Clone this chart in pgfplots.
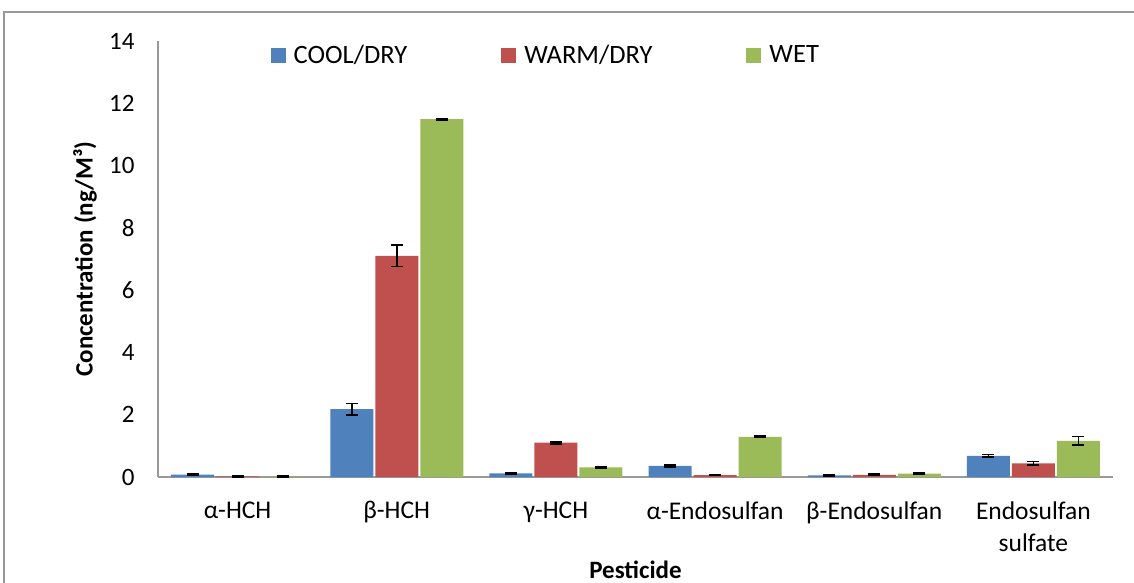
\documentclass[border=0pt]{standalone}
\usepackage{pgfplots}
\pgfplotsset{compat=1.18}
\usepackage{fontspec}
\setmainfont{Carlito}
\definecolor{cblue}{HTML}{4F81BD}
\definecolor{cred}{HTML}{C0504D}
\definecolor{cgreen}{HTML}{9BBB59}
\begin{document}
\begin{tikzpicture}[x=1pt,y=1pt]
\useasboundingbox (-158,-106) rectangle (976,477);
\draw[gray!80, line width=1.2pt] (-154,-130) rectangle (980,465);
\begin{axis}[
  scale only axis,
  width=955pt, height=436pt,
  ymin=0, ymax=14,
  xmin=-0.5, xmax=5.5,
  ytick={0,2,...,14},
  xtick={0,...,5},
  xticklabels={α-HCH,β-HCH,γ-HCH,α-Endosulfan,β-Endosulfan,Endosulfan\\sulfate},
  xticklabel style={align=center, font=\fontsize{25.5}{32}\selectfont, yshift=-21pt},
  yticklabel style={font=\fontsize{25}{30}\selectfont, xshift=-20pt},
  /pgf/number format/assume math mode=true,
  major tick length=0pt,
  axis x line*=bottom, axis y line*=left,
  axis line style={gray!80, line width=1.5pt, -},
  ybar, bar width=43pt,
  xlabel={\textbf{Pesticide}}, ylabel={\textbf{Concentration (ng/M³)}},
  xlabel style={font=\fontsize{25}{30}\selectfont, at={(axis description cs:0.5,0)}, anchor=center, yshift=-93pt},
  ylabel style={font=\fontsize{25}{30}\selectfont, at={(axis description cs:-0.0764,0.5)}, anchor=center},
  legend style={draw=none, fill=none, inner sep=0pt, at={(axis cs:0.2068,13.55)}, anchor=west, legend columns=3,
    font=\fontsize{26.5}{30}\selectfont, /tikz/every even column/.append style={column sep=92pt}},
  legend image code/.code={\fill[#1] (0pt,-7.5pt) rectangle (15pt,7.5pt); \path (0pt,0pt) (21pt,0pt);},
  error bars/error bar style={line width=1.8pt, black},
  error bars/error mark options={rotate=90, mark size=6pt, line width=1.8pt, black},
]
\addplot[fill=cblue, draw=none, error bars/.cd, y dir=both, y explicit] coordinates {
 (0,0.08) +- (0,0.02) (1,2.18) +- (0,0.18) (2,0.12) +- (0,0.02) (3,0.36) +- (0,0.03) (4,0.05) +- (0,0.01) (5,0.68) +- (0,0.04)};
\addplot[fill=cred, draw=none, error bars/.cd, y dir=both, y explicit] coordinates {
 (0,0.02) +- (0,0.01) (1,7.10) +- (0,0.34) (2,1.10) +- (0,0.03) (3,0.06) +- (0,0.01) (4,0.07) +- (0,0.02) (5,0.44) +- (0,0.06)};
\addplot[fill=cgreen, draw=none, error bars/.cd, y dir=both, y explicit] coordinates {
 (0,0.01) +- (0,0.01) (1,11.49) +- (0,0.02) (2,0.31) +- (0,0.02) (3,1.29) +- (0,0.02) (4,0.11) +- (0,0.02) (5,1.16) +- (0,0.14)};
\legend{COOL/DRY,WARM/DRY,WET}
\end{axis}
\end{tikzpicture}
\end{document}
